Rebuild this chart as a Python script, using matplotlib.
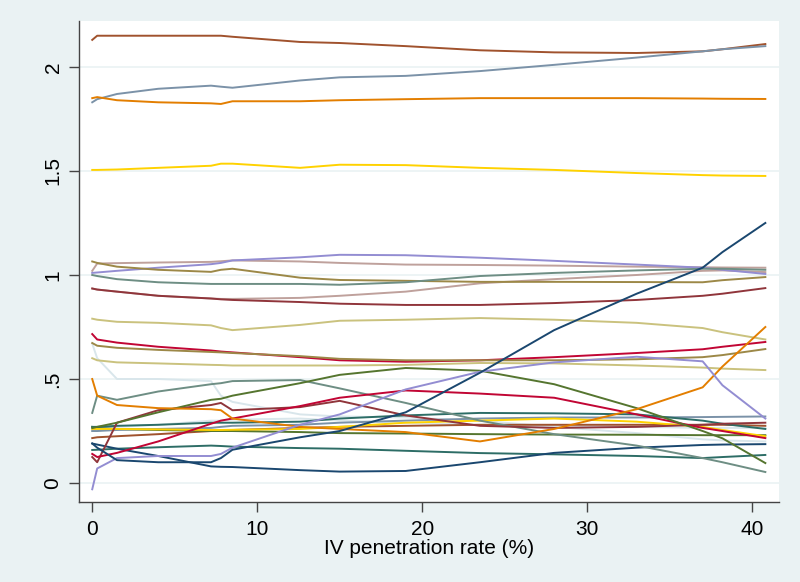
import matplotlib
matplotlib.use("Agg")
import matplotlib.pyplot as plt

plt.rcParams['font.family'] = ['Liberation Sans', 'DejaVu Sans']

X = [0, 0.3, 1.5, 4, 7.2, 7.8, 8.5, 12.6, 15, 19, 23.5, 28, 33, 37, 38.2, 40.8]

sienna_a = [2.13, 2.15, 2.15, 2.15, 2.15, 2.15, 2.145, 2.12, 2.115, 2.10, 2.08, 2.07, 2.067, 2.075, 2.085, 2.11]
emidblue_a = [1.83, 1.845, 1.87, 1.895, 1.91, 1.905, 1.90, 1.935, 1.95, 1.957, 1.98, 2.01, 2.045, 2.075, 2.085, 2.10]
orange_a = [1.85, 1.855, 1.84, 1.83, 1.825, 1.822, 1.835, 1.835, 1.84, 1.845, 1.85, 1.85, 1.85, 1.848, 1.847, 1.846]
gold_a = [1.505, 1.505, 1.507, 1.515, 1.525, 1.535, 1.535, 1.515, 1.53, 1.528, 1.515, 1.505, 1.49, 1.48, 1.478, 1.476]
lavender_a = [1.01, 1.012, 1.02, 1.035, 1.052, 1.058, 1.07, 1.085, 1.097, 1.095, 1.083, 1.068, 1.05, 1.035, 1.025, 1.005]
erose_a = [1.02, 1.055, 1.057, 1.06, 1.063, 1.066, 1.07, 1.065, 1.058, 1.05, 1.048, 1.045, 1.04, 1.037, 1.036, 1.035]
brown_a = [1.065, 1.058, 1.04, 1.025, 1.015, 1.025, 1.03, 0.987, 0.976, 0.972, 0.967, 0.967, 0.966, 0.965, 0.975, 0.99]
teal_a = [1.0, 0.995, 0.98, 0.965, 0.957, 0.957, 0.957, 0.957, 0.953, 0.965, 0.995, 1.01, 1.022, 1.03, 1.03, 1.025]
maroon_a = [0.935, 0.93, 0.92, 0.9, 0.887, 0.883, 0.88, 0.87, 0.862, 0.856, 0.856, 0.865, 0.88, 0.9, 0.91, 0.937]
erose_b = [0.935, 0.93, 0.92, 0.9, 0.887, 0.885, 0.885, 0.89, 0.9, 0.92, 0.96, 0.98, 1.0, 1.02, 1.022, 1.014]
khaki_a = [0.79, 0.785, 0.775, 0.77, 0.758, 0.745, 0.735, 0.76, 0.78, 0.785, 0.793, 0.785, 0.77, 0.745, 0.725, 0.69]
cranberry_a = [0.716, 0.69, 0.675, 0.655, 0.637, 0.632, 0.628, 0.605, 0.59, 0.583, 0.59, 0.605, 0.625, 0.643, 0.655, 0.678]
brown_b = [0.673, 0.66, 0.65, 0.64, 0.63, 0.628, 0.625, 0.61, 0.597, 0.59, 0.59, 0.59, 0.595, 0.605, 0.615, 0.644]
khaki_b = [0.60, 0.59, 0.58, 0.575, 0.568, 0.567, 0.565, 0.565, 0.565, 0.568, 0.577, 0.575, 0.565, 0.555, 0.55, 0.543]
bluishgray_a = [0.67, 0.60, 0.50, 0.50, 0.49, 0.42, 0.39, 0.33, 0.32, 0.315, 0.30, 0.27, 0.24, 0.21, 0.205, 0.20]
teal_b = [0.337, 0.42, 0.40, 0.44, 0.475, 0.48, 0.49, 0.495, 0.455, 0.385, 0.30, 0.235, 0.18, 0.12, 0.10, 0.053]
green_a = [0.264, 0.27, 0.29, 0.34, 0.40, 0.405, 0.42, 0.48, 0.52, 0.553, 0.54, 0.475, 0.36, 0.25, 0.215, 0.096]
orange_b = [0.50, 0.42, 0.375, 0.36, 0.355, 0.35, 0.31, 0.27, 0.26, 0.245, 0.20, 0.26, 0.355, 0.46, 0.56, 0.75]
maroon_b = [0.125, 0.10, 0.29, 0.35, 0.375, 0.385, 0.35, 0.365, 0.395, 0.325, 0.275, 0.265, 0.27, 0.28, 0.285, 0.29]
cranberry_b = [0.14, 0.125, 0.145, 0.20, 0.285, 0.30, 0.31, 0.37, 0.41, 0.445, 0.43, 0.41, 0.33, 0.265, 0.25, 0.216]
lavender_b = [-0.03, 0.07, 0.12, 0.13, 0.13, 0.14, 0.17, 0.28, 0.33, 0.45, 0.535, 0.58, 0.607, 0.585, 0.47, 0.31]
navy_a = [0.19, 0.17, 0.11, 0.10, 0.10, 0.12, 0.16, 0.22, 0.25, 0.34, 0.53, 0.735, 0.91, 1.035, 1.11, 1.25]
navy_b = [0.19, 0.185, 0.165, 0.13, 0.08, 0.078, 0.077, 0.062, 0.055, 0.058, 0.10, 0.145, 0.17, 0.183, 0.185, 0.187]
emerald_a = [0.159, 0.16, 0.165, 0.172, 0.18, 0.178, 0.175, 0.168, 0.165, 0.155, 0.144, 0.138, 0.13, 0.12, 0.125, 0.135]
emerald_b = [0.27, 0.27, 0.275, 0.28, 0.29, 0.29, 0.29, 0.295, 0.31, 0.325, 0.337, 0.335, 0.33, 0.30, 0.285, 0.26]
gold_b = [0.26, 0.26, 0.26, 0.258, 0.255, 0.255, 0.256, 0.26, 0.27, 0.29, 0.30, 0.31, 0.295, 0.27, 0.255, 0.225]
emidblue_b = [0.25, 0.25, 0.255, 0.26, 0.265, 0.27, 0.275, 0.28, 0.29, 0.30, 0.31, 0.315, 0.315, 0.317, 0.318, 0.32]
sienna_b = [0.216, 0.22, 0.225, 0.235, 0.25, 0.252, 0.255, 0.265, 0.27, 0.275, 0.28, 0.28, 0.28, 0.28, 0.28, 0.275]
green_b = [0.27, 0.265, 0.26, 0.255, 0.25, 0.25, 0.25, 0.245, 0.24, 0.238, 0.235, 0.233, 0.232, 0.23, 0.23, 0.23]
bluishgray_b = [0.25, 0.26, 0.27, 0.28, 0.30, 0.30, 0.305, 0.31, 0.30, 0.29, 0.28, 0.275, 0.27, 0.265, 0.265, 0.265]

x_ticks = [0, 10, 20, 30, 40]
y_ticks = [0, 0.5, 1, 1.5, 2]
y_tick_labels = ["0", ".5", "1", "1.5", "2"]
x_label = "IV penetration rate (%)"

COL = {
    'navy': '#1a476f', 'maroon': '#90353b', 'green': '#55752f', 'orange': '#e37e00',
    'teal': '#6e8e84', 'cranberry': '#c10534', 'lavender': '#938dd2', 'khaki': '#cac27e',
    'sienna': '#a0522d', 'emidblue': '#7b92a8', 'emerald': '#2d6d66', 'brown': '#9c8847',
    'erose': '#bfa19c', 'gold': '#ffd200', 'bluishgray': '#d9e6eb',
}

series = [
    (bluishgray_a, 'bluishgray'), (bluishgray_b, 'bluishgray'),
    (khaki_a, 'khaki'), (khaki_b, 'khaki'),
    (erose_a, 'erose'), (erose_b, 'erose'),
    (sienna_a, 'sienna'), (emidblue_a, 'emidblue'), (orange_a, 'orange'), (gold_a, 'gold'),
    (lavender_a, 'lavender'), (brown_a, 'brown'), (teal_a, 'teal'), (maroon_a, 'maroon'),
    (cranberry_a, 'cranberry'), (brown_b, 'brown'),
    (emidblue_b, 'emidblue'), (sienna_b, 'sienna'), (green_b, 'green'), (gold_b, 'gold'),
    (emerald_a, 'emerald'), (emerald_b, 'emerald'), (navy_b, 'navy'),
    (teal_b, 'teal'), (maroon_b, 'maroon'), (cranberry_b, 'cranberry'),
    (green_a, 'green'), (orange_b, 'orange'), (lavender_b, 'lavender'), (navy_a, 'navy'),
]

bg = '#eaf2f3'
fig = plt.figure(figsize=(8, 5.82), dpi=100, facecolor=bg)
ax = fig.add_axes([0.099, 0.1375, 0.875, 0.8265])
ax.set_facecolor('white')

for ys, c in series:
    ax.plot(X, ys, color=COL[c], lw=1.4, solid_joinstyle='round')

ax.set_xlim(-0.79, 41.64)
ax.set_ylim(-0.091, 2.221)
ax.set_xticks(x_ticks)
ax.set_yticks(y_ticks)
ax.set_yticklabels(y_tick_labels, rotation=90, va='center')
ax.grid(axis='y', color=bg, lw=1.2)
ax.set_axisbelow(True)
for s in ['top', 'right']:
    ax.spines[s].set_visible(False)
for s in ['left', 'bottom']:
    ax.spines[s].set_color('#444444')
    ax.spines[s].set_linewidth(1.0)
ax.tick_params(axis='both', length=7, width=1.0, color='#444444', labelsize=15)
ax.tick_params(axis='x', pad=6)
ax.tick_params(axis='y', pad=5)
ax.set_xlabel(x_label, fontsize=15, labelpad=0)

fig.savefig('out.png', dpi=100, facecolor=bg)
